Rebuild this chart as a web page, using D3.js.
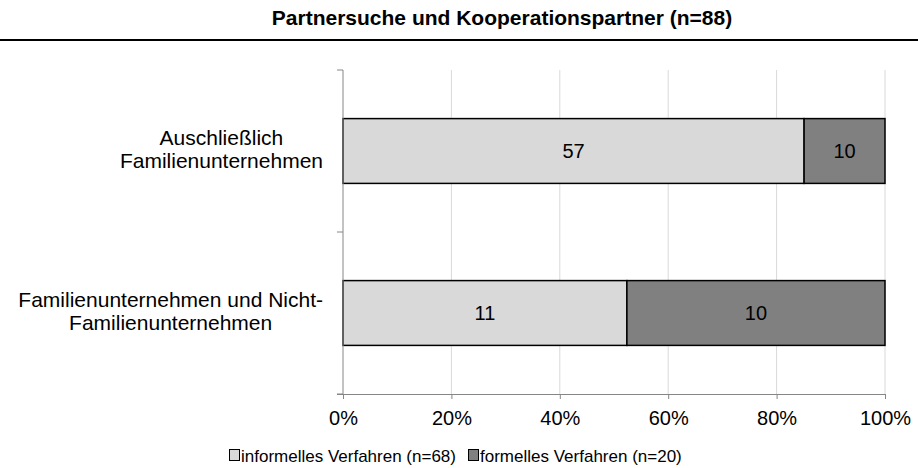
<!DOCTYPE html>
<meta charset="utf-8">
<html>
<head>
    <title>Partnersuche und Kooperationspartner</title>
    <script src="https://cdn.jsdelivr.net/npm/d3@7"></script>
    <style>
        body { margin: 0; background: #fff; }
        svg { font-family: Arial, "Liberation Sans", sans-serif; }
    </style>
</head>
<body>
<div id="chart"></div>
<script>
    // data
    var categories = ["Auschließlich Familienunternehmen", "Familienunternehmen und Nicht-Familienunternehmen"];
    var categoryLines = [["Auschließlich", "Familienunternehmen"], ["Familienunternehmen und Nicht-", "Familienunternehmen"]];
    var seriesNames = ["informelles Verfahren (n=68)", "formelles Verfahren (n=20)"];
    var informell = [57, 11];
    var formell = [10, 10];
    var seriesColors = ["#d9d9d9", "#808080"];
    var tickValues = [0, 0.2, 0.4, 0.6, 0.8, 1];

    var width = 918, height = 468;
    var margin = { top: 70, right: 33, bottom: 74, left: 343 };

    var svg = d3.select("#chart").append("svg")
        .attr("width", width)
        .attr("height", height);

    // title and rule underneath
    svg.append("text")
        .attr("x", 502)
        .attr("y", 25)
        .attr("text-anchor", "middle")
        .style("font-size", "21px")
        .style("font-weight", "bold")
        .text("Partnersuche und Kooperationspartner (n=88)");

    svg.append("line")
        .attr("x1", 0).attr("x2", width)
        .attr("y1", 40).attr("y2", 40)
        .attr("stroke", "#000")
        .attr("stroke-width", 2);

    var x = d3.scaleLinear()
        .domain([0, 1])
        .range([margin.left, width - margin.right]);

    var y = d3.scaleBand()
        .domain(categories)
        .range([margin.top, height - margin.bottom])
        .paddingInner(0.6)
        .paddingOuter(0.3);

    // gridlines
    svg.append("g")
        .selectAll("line")
        .data(tickValues.slice(1))
        .enter().append("line")
        .attr("x1", function (d) { return x(d); })
        .attr("x2", function (d) { return x(d); })
        .attr("y1", margin.top)
        .attr("y2", height - margin.bottom)
        .attr("stroke", "#d9d9d9")
        .attr("stroke-width", 1);

    // stack the two series as shares of the row total
    var rows = categories.map(function (c, i) {
        var total = informell[i] + formell[i];
        return {
            cat: c,
            parts: [
                { v: informell[i], x0: 0, x1: informell[i] / total, s: 0, cat: c },
                { v: formell[i], x0: informell[i] / total, x1: 1, s: 1, cat: c }
            ]
        };
    });

    var barG = svg.append("g").selectAll("g")
        .data(rows)
        .enter().append("g");

    barG.selectAll("rect")
        .data(function (d) { return d.parts; })
        .enter().append("rect")
        .attr("x", function (p) { return x(p.x0); })
        .attr("width", function (p) { return x(p.x1) - x(p.x0); })
        .attr("y", function (p) { return y(p.cat); })
        .attr("height", y.bandwidth())
        .attr("fill", function (p) { return seriesColors[p.s]; })
        .attr("stroke", "#000")
        .attr("stroke-width", 1.5);

    barG.selectAll("text")
        .data(function (d) { return d.parts; })
        .enter().append("text")
        .attr("x", function (p) { return (x(p.x0) + x(p.x1)) / 2; })
        .attr("y", function (p) { return y(p.cat) + y.bandwidth() / 2; })
        .attr("dy", "0.35em")
        .attr("text-anchor", "middle")
        .style("font-size", "20px")
        .attr("fill", "#000")
        .text(function (p) { return p.v; });

    // x axis
    var xAxis = svg.append("g")
        .attr("transform", "translate(0," + (height - margin.bottom) + ")")
        .call(d3.axisBottom(x).tickValues(tickValues).tickFormat(d3.format(".0%")).tickSize(5).tickSizeOuter(0));
    xAxis.select(".domain").attr("stroke", "#868686").attr("d", "M" + (x(0) - 6) + ",0.5H" + x(1));
    xAxis.selectAll(".tick line").attr("stroke", "#868686");
    xAxis.selectAll(".tick text")
        .attr("y", 31)
        .attr("dy", "0")
        .style("font-size", "20px")
        .style("font-family", "Arial, 'Liberation Sans', sans-serif")
        .attr("fill", "#000");

    // y axis: vertical line plus separators between the categories
    var yAxisG = svg.append("g");
    yAxisG.append("line")
        .attr("x1", x(0)).attr("x2", x(0))
        .attr("y1", margin.top).attr("y2", height - margin.bottom)
        .attr("stroke", "#868686");
    var bounds = [margin.top, margin.top + (height - margin.top - margin.bottom) / 2, height - margin.bottom];
    yAxisG.selectAll(".sep")
        .data(bounds)
        .enter().append("line")
        .attr("x1", x(0) - 6).attr("x2", x(0))
        .attr("y1", function (d) { return d; })
        .attr("y2", function (d) { return d; })
        .attr("stroke", "#868686");

    // category labels: block right-aligned next to the axis, lines centred inside it
    var labelRight = 323;
    var lab = svg.append("g").selectAll("text")
        .data(categories)
        .enter().append("text")
        .attr("text-anchor", "middle")
        .style("font-size", "21px")
        .attr("y", function (c) { return y(c) + y.bandwidth() / 2 - 6; });
    lab.each(function (c, i) {
        var t = d3.select(this);
        var spans = t.selectAll("tspan")
            .data(categoryLines[i])
            .enter().append("tspan")
            .attr("dy", function (l, j) { return j === 0 ? "0" : "23"; })
            .text(function (l) { return l; });
        var maxW = 0;
        spans.each(function () { maxW = Math.max(maxW, this.getComputedTextLength()); });
        spans.attr("x", labelRight - maxW / 2);
    });

    // legend
    var legendX = [229, 468];
    var leg = svg.append("g").selectAll("g")
        .data(seriesNames)
        .enter().append("g")
        .attr("transform", function (d, i) { return "translate(" + legendX[i] + ",462)"; });
    leg.append("rect")
        .attr("x", 0.5).attr("y", -12.5)
        .attr("width", 10).attr("height", 11)
        .attr("fill", function (d, i) { return seriesColors[i]; })
        .attr("stroke", "#000")
        .attr("stroke-width", 1);
    leg.append("text")
        .attr("x", 12)
        .attr("y", 0)
        .style("font-size", "17px")
        .text(function (d) { return d; });
</script>
</body>
</html>
